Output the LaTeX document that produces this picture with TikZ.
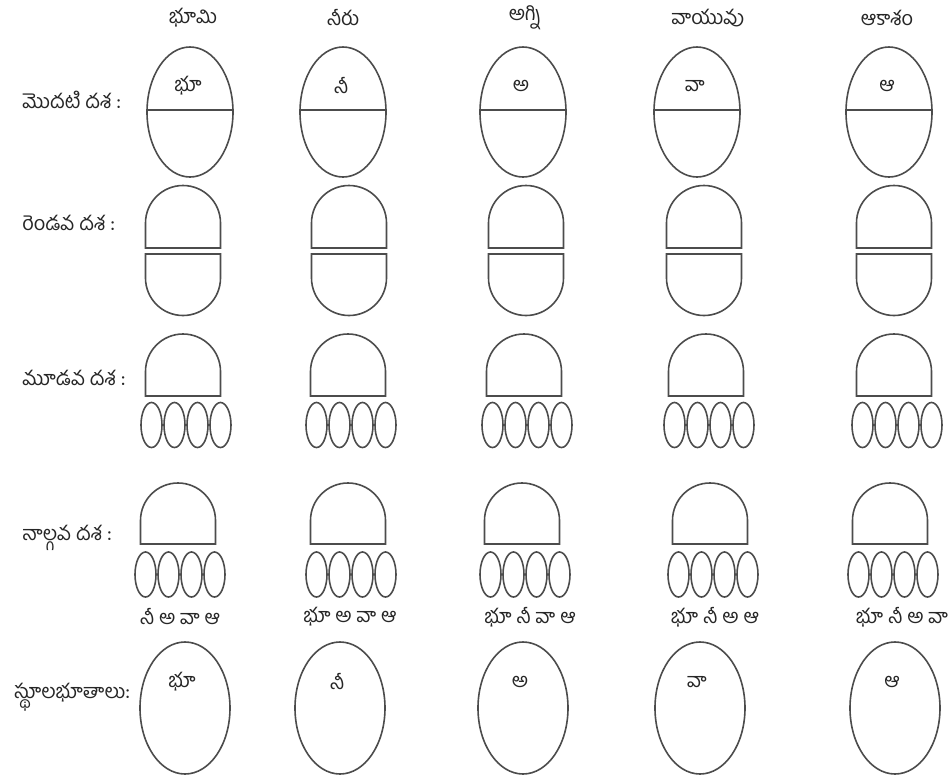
\documentclass[tikz,border=0pt]{standalone}
\usepackage{fontspec}
\newfontfamily\te[Script=Telugu]{Hind Guntur}
\begin{document}
\begin{tikzpicture}[x=0.5pt,y=-0.5pt,
  shp/.style={draw=black!70,line width=0.8pt},
  lbl/.style={font=\te\fontsize{10}{12}\selectfont,inner sep=0pt,text=black!85},
  rowlbl/.style={lbl,anchor=west}]
\useasboundingbox (0,0) rectangle (950,778);
% headers
\foreach \x/\t/\n in {193/భూమి/h1,343/నీరు/h2,525/అగ్ని/h3,708/వాయువు/h4,887/ఆకాశం/h5}
  \node[lbl] (\n) at (\x,18) {\t};
% row labels
\node[rowlbl] (r1) at (22,100) {మొదటి దశ :};
\node[rowlbl] (r2) at (22,223) {రెండవ దశ :};
\node[rowlbl] (r3) at (22,378) {మూడవ దశ :};
\node[rowlbl] (r4) at (22,538) {నాల్గవ దశ :};
\node[rowlbl] (r5) at (14,697) {స్థూలభూతాలు:};
% row 1: split ellipses
\foreach \cx/\t/\n in {190/భూ/a1,343/నీ/a2,523/అ/a3,697/వా/a4,889/ఆ/a5}{
  \draw[shp] (\cx,112) ellipse [x radius=43,y radius=65];
  \draw[shp] (\cx-43,110) -- (\cx+43,110);
  \node[lbl] (\n) at (\cx-2,86) {\t};
}
% row 2: two halves
\foreach \cx in {183,349,526,704,894}{
  \draw[shp] (\cx-37.5,248) -- (\cx-37.5,223) arc (180:360:37.5) -- (\cx+37.5,248) -- cycle;
  \draw[shp] (\cx-37.5,254) -- (\cx-37.5,278) arc (180:0:37.5) -- (\cx+37.5,254) -- cycle;
}
% row 3: dome + four small ellipses
\foreach \cx/\ce in {183/186,348/351,524/527,706/709,894/897}{
  \draw[shp] (\cx-37.5,396) -- (\cx-37.5,371.5) arc (180:360:37.5) -- (\cx+37.5,396) -- cycle;
  \foreach \d in {-34.5,-11.5,11.5,34.5}
    \draw[shp] (\ce+\d,425) ellipse [x radius=10.5,y radius=22.5];
}
% row 4: dome + four small ellipses + letters
\foreach \cx/\ce/\tx/\t/\n in {178/180/180/నీ అ వా ఆ/b1,348/351/350/భూ అ వా ఆ/b2,522/525/530/భూ నీ వా ఆ/b3,710/713/715/భూ నీ అ ఆ/b4,890/893/902/భూ నీ అ వా/b5}{
  \draw[shp] (\cx-37.5,544) -- (\cx-37.5,520.5) arc (180:360:37.5) -- (\cx+37.5,544) -- cycle;
  \foreach \d in {-34.5,-11.5,11.5,34.5}
    \draw[shp] (\ce+\d,574.5) ellipse [x radius=10.5,y radius=22.5];
  \node[lbl] (\n) at (\tx,617) {\t};
}
% row 5: gross elements
\foreach \cx/\t/\n in {185/భూ/c1,340/నీ/c2,523/అ/c3,700/వా/c4,895/ఆ/c5}{
  \draw[shp] (\cx,708) ellipse [x radius=45,y radius=66];
  \node[lbl] (\n) at (\cx-3,682) {\t};
}
\end{tikzpicture}
\end{document}
